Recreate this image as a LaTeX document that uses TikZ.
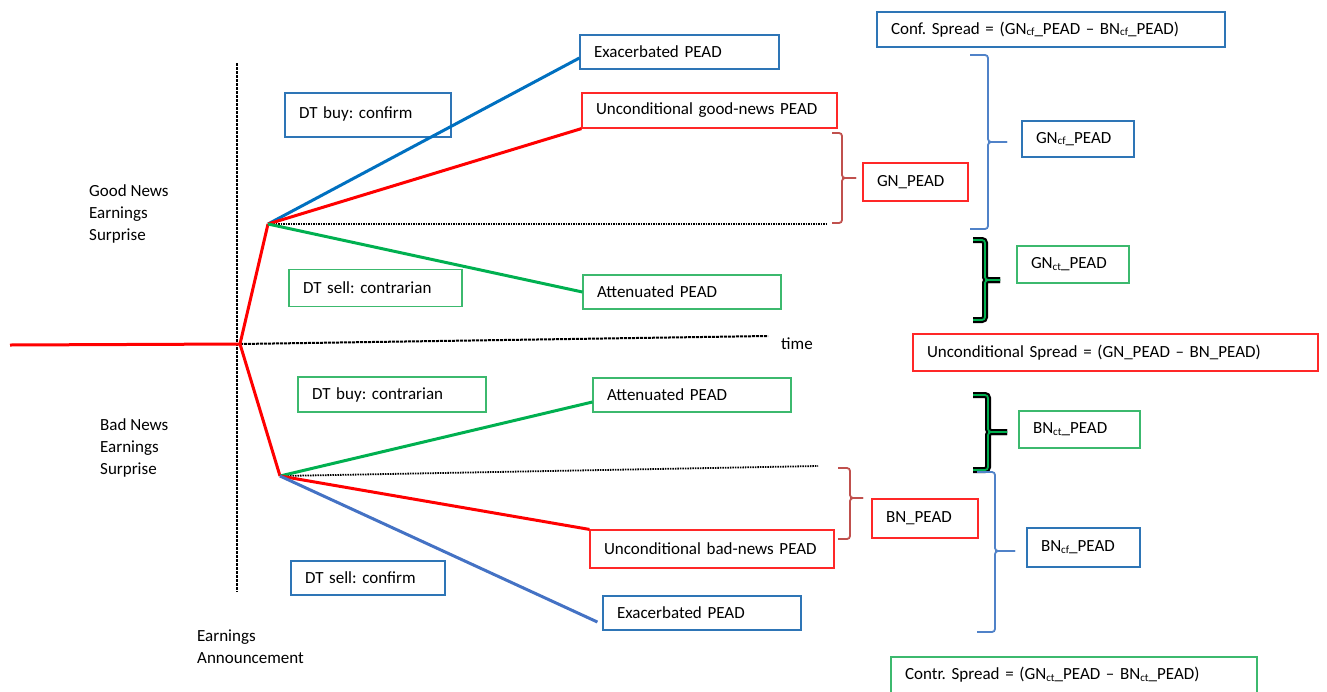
\documentclass[tikz,border=0pt]{standalone}
\usepackage{fontspec}
\setmainfont{Carlito}
\usepackage{tikz}
\usetikzlibrary{calc}
\frenchspacing
\definecolor{boxblue}{RGB}{46,117,182}
\definecolor{boxred}{RGB}{255,40,40}
\definecolor{boxgreen}{RGB}{60,185,110}
\definecolor{lnblue}{RGB}{0,112,192}
\definecolor{lnblue2}{RGB}{68,114,196}
\definecolor{lnred}{RGB}{255,0,0}
\definecolor{lngreen}{RGB}{0,176,80}
\definecolor{brred}{RGB}{192,80,77}
\definecolor{brblue}{RGB}{80,130,200}
\newcommand{\lowsub}[1]{\raisebox{-1.5pt}{\fontsize{11}{11}\selectfont #1}}
\tikzset{
  pbox/.style = {draw, line width=1.2pt, align=left, inner xsep=14pt, inner ysep=0pt},
  bluebox/.style = {pbox, draw=boxblue},
  redbox/.style = {pbox, draw=boxred},
  greenbox/.style = {pbox, draw=boxgreen},
  branch/.style = {line width=3pt},
  axis/.style = {black, line width=2pt, dash pattern=on 3pt off 1pt},
  dotline/.style = {black, line width=1.8pt, dash pattern=on 1.5pt off 1pt},
  brk/.style = {rounded corners=3pt, line width=1.8pt},
  gbrk/.style = {rounded corners=3pt, line width=6pt, black},
  gbrkin/.style = {rounded corners=3pt, line width=1.8pt, lngreen}
}

\begin{document}
\begin{tikzpicture}[x=1pt, y=-1pt, font=\fontsize{17}{22}\selectfont]
	\useasboundingbox (0,0) rectangle (1327,691);

	% junctions
	\coordinate (start) at (10,345);
	\coordinate (ea) at (240,344);
	\coordinate (gn) at (268,224);
	\coordinate (bn) at (280,476);
	\coordinate (vtop) at (237,63);
	\coordinate (vbot) at (237,592);
	\coordinate (tend) at (768,336);
	\coordinate (gnend) at (826,224);
	\coordinate (bnend) at (818,466);

	% text
	\node [anchor=west, align=left, inner sep=0pt] (gnews) at (89,214) {Good News\\Earnings\\Surprise};
	\node [anchor=west, align=left, inner sep=0pt] (bnews) at (100,448) {Bad News\\Earnings\\Surprise};
	\node [anchor=west, align=left, inner sep=0pt] (ann) at (197,647) {Earnings\\Announcement};
	\node [anchor=west, inner sep=0pt] (time) at (781,344) {time};

	% outcome boxes
	\node [bluebox, text width=171pt, minimum height=34pt] (exu) at (679.5,52) {Exacerbated PEAD};
	\node [redbox, text width=227pt, minimum height=35pt] (ugn) at (709.5,110.5) {Unconditional good-news PEAD};
	\node [greenbox, text width=170pt, minimum height=34pt] (atu) at (682,292) {Attenuated PEAD};
	\node [greenbox, text width=170pt, minimum height=34pt] (atl) at (692,395) {Attenuated PEAD};
	\node [redbox, text width=216pt, minimum height=38pt] (ubn) at (712,549) {Unconditional bad-news PEAD};
	\node [bluebox, text width=170pt, minimum height=34pt] (exl) at (702,613) {Exacerbated PEAD};

	% trade boxes
	\node [bluebox, text width=138pt, minimum height=44pt] (dbc) at (368,115) {\raisebox{4pt}{DT buy: confirm}};
	\node [greenbox, text width=145pt, minimum height=37pt] (dsc) at (375.5,288) {DT sell: contrarian};
	\node [greenbox, text width=160pt, minimum height=35pt] (dbt) at (392,394.5) {DT buy: contrarian};
	\node [bluebox, text width=126pt, minimum height=34pt] (dsf) at (368,578) {DT sell: confirm};

	% spread boxes
	\node [bluebox, text width=320pt, minimum height=35pt] (conf) at (1051,29.5) {Conf. Spread = (GN\lowsub{cf}\_PEAD -- BN\lowsub{cf}\_PEAD)};
	\node [bluebox, text width=84pt, minimum height=36pt] (gncf) at (1078,139) {GN\lowsub{cf}\_PEAD};
	\node [redbox, text width=77pt, minimum height=38pt] (gnp) at (915.5,182) {GN\_PEAD};
	\node [greenbox, text width=84pt, minimum height=37pt] (gnct) at (1073,264.5) {GN\lowsub{ct}\_PEAD};
	\node [redbox, text width=377pt, minimum height=37pt] (uncs) at (1115.5,352.5) {Unconditional Spread = (GN\_PEAD -- BN\_PEAD)};
	\node [greenbox, text width=93pt, minimum height=37pt] (bnct) at (1079.5,429.5) {BN\lowsub{ct}\_PEAD};
	\node [redbox, text width=78pt, minimum height=39pt] (bnp) at (925,518.5) {BN\_PEAD};
	\node [bluebox, text width=85pt, minimum height=39pt] (bncf) at (1083.5,547.5) {BN\lowsub{cf}\_PEAD};
	\node [greenbox, text width=338pt, minimum height=36pt] (ctrs) at (1074,675) {Contr. Spread = (GN\lowsub{ct}\_PEAD -- BN\lowsub{ct}\_PEAD)};

	% axes
	\draw [axis] (vtop) -- (vbot);
	\draw [axis] (ea) -- (tend);
	\draw [dotline] (gn) -- (gnend);
	\draw [dotline] (bn) -- (bnend);

	% branches
	\draw [branch, lnred] (start) -- (ea) -- (gn);
	\draw [branch, lnred] (ea) -- (bn);
	\draw [branch, lnblue] (gn) -- ([yshift=-6pt]exu.west);
	\draw [branch, lnred] (gn) -- (ugn.south west);
	\draw [branch, lngreen] (gn) -- (atu.west);
	\draw [branch, lngreen] (bn) -- ([yshift=-7pt]atl.west);
	\draw [branch, lnred] (bn) -- (ubn.north west);
	\draw [branch, lnblue2] (bn) -- ([xshift=-5pt,yshift=-9pt]exl.west);

	% braces
	\draw [brk, brblue] (970,55) -| (988,142) -- (1007,142);
	\draw [brk, brblue] (970,229) -| (988,142) -- (1007,142);
	\draw [brk, brred] (832,133) -| (842,178) -- (856,178);
	\draw [brk, brred] (832,223) -| (842,178) -- (856,178);
	\draw [gbrk] (973,240) -| (985,280) -- (1000,280);
	\draw [gbrk] (973,320) -| (985,280) -- (1000,280);
	\draw [gbrkin] (973,240) -| (985,280) -- (1000,280);
	\draw [gbrkin] (973,320) -| (985,280) -- (1000,280);
	\draw [gbrk] (973,395) -| (988,432) -- (1007,432);
	\draw [gbrk] (973,470) -| (988,432) -- (1007,432);
	\draw [gbrkin] (973,395) -| (988,432) -- (1007,432);
	\draw [gbrkin] (973,470) -| (988,432) -- (1007,432);
	\draw [brk, brred] (838,468) -| (850,498) -- (863,498);
	\draw [brk, brred] (838,539) -| (850,498) -- (863,498);
	\draw [brk, brblue] (977,472) -| (995,551) -- (1015,551);
	\draw [brk, brblue] (977,632) -| (995,551) -- (1015,551);
\end{tikzpicture}
\end{document}
